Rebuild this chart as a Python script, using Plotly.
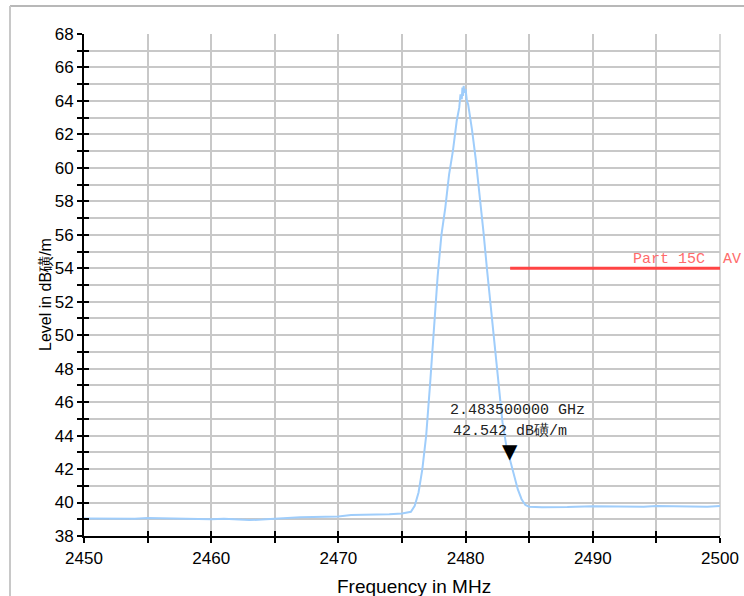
import plotly.graph_objects as go

# ---- data ----
freq_mhz = [2450, 2452, 2454, 2455, 2457, 2457.5, 2460, 2461, 2462, 2463, 2464, 2465,
            2466, 2467, 2468, 2470, 2471, 2473, 2474, 2475, 2475.7, 2476.0, 2476.3,
            2476.6, 2476.9, 2477.2, 2477.5, 2477.8, 2478.1, 2478.4, 2478.7, 2479.0,
            2479.3, 2479.5, 2479.6, 2479.7, 2479.75, 2479.8, 2479.85, 2479.9, 2480.0,
            2480.1, 2480.2, 2480.5, 2480.8, 2481.1, 2481.4, 2481.7, 2482.0, 2482.3,
            2482.6, 2482.9, 2483.2, 2483.5, 2483.8, 2484.1, 2484.4, 2484.7, 2485.0,
            2486, 2488, 2490, 2492, 2494, 2495, 2497, 2499, 2500]
level_dbuvm = [39.05, 39.02, 39.03, 39.08, 39.05, 39.0, 39.0, 39.03, 38.98, 38.95, 38.98, 39.05,
               39.08, 39.12, 39.15, 39.17, 39.25, 39.27, 39.3, 39.35, 39.45, 39.8, 40.6,
               42.0, 44.0, 47.0, 50.5, 53.5, 56.0, 57.6, 59.6, 61.0,
               62.8, 63.6, 64.4, 64.1, 64.8, 64.3, 64.9, 64.5, 64.7,
               64.0, 63.8, 62.3, 60.5, 58.5, 56.2, 53.8, 51.5, 49.0,
               46.7, 44.8, 43.4, 42.542, 41.6, 40.8, 40.2, 39.85, 39.75,
               39.72, 39.73, 39.78, 39.76, 39.75, 39.8, 39.76, 39.75, 39.8]

limit_freq = [2483.5, 2500]
limit_level = [54, 54]
limit_label = "Part 15C  AV"

marker_freq = 2483.5
marker_level = 42.542
marker_text = ["2.483500000 GHz", "42.542 dB磺/m"]

x_title = "Frequency in MHz"
y_title = "Level in dB磺/m"

fig = go.Figure()

fig.add_trace(go.Scatter(x=freq_mhz, y=level_dbuvm, mode="lines",
                         line=dict(color="#9fcdfb", width=2), showlegend=False,
                         hoverinfo="skip"))
fig.add_trace(go.Scatter(x=limit_freq, y=limit_level, mode="lines",
                         line=dict(color="#ff4444", width=3), showlegend=False,
                         hoverinfo="skip"))
# invisible trace to activate the overlaying axes (crossing ticks)
fig.add_trace(go.Scatter(x=[limit_freq[0]], y=[limit_level[0]], mode="markers",
                         marker=dict(opacity=0), yaxis="y2", xaxis="x2",
                         showlegend=False, hoverinfo="skip"))

serif_mono = "Liberation Mono, Courier New, monospace"
narrow = "Liberation Sans Narrow, Arial Narrow, Liberation Sans, Arial"

fig.add_annotation(x=limit_freq[1], y=limit_level[0], text=limit_label,
                   xanchor="right", yanchor="bottom", showarrow=False,
                   xshift=23, yshift=-2,
                   font=dict(family=serif_mono, size=15, color="#ff6b6b"))

fig.add_annotation(x=marker_freq, y=marker_level, text=marker_text[0],
                   xanchor="center", yanchor="middle", showarrow=False,
                   xshift=7, yshift=50,
                   font=dict(family=serif_mono, size=15, color="#222222"))
fig.add_annotation(x=marker_freq, y=marker_level, text=marker_text[1],
                   xanchor="center", yanchor="middle", showarrow=False,
                   xshift=0, yshift=29,
                   font=dict(family=serif_mono, size=15, color="#222222"))
fig.add_annotation(x=marker_freq, y=marker_level, text="▼",
                   xanchor="center", yanchor="middle", showarrow=False,
                   xshift=0, yshift=9,
                   font=dict(family="DejaVu Sans", size=20, color="#000000"))

# axis titles
fig.add_annotation(xref="paper", yref="paper", x=0.5, y=0, text=x_title,
                   xanchor="center", yanchor="middle", showarrow=False,
                   xshift=12, yshift=-50,
                   font=dict(family=narrow, size=19, color="#000000"))
fig.add_annotation(xref="paper", yref="paper", x=0, y=0.5, text=y_title,
                   xanchor="center", yanchor="middle", showarrow=False,
                   xshift=-39, yshift=-10, textangle=-90,
                   font=dict(family=narrow, size=16, color="#000000"))

# outer frame
fig.add_shape(type="line", xref="paper", yref="paper",
              x0=-74 / 636, x1=1.5, y0=1 + 28 / 502, y1=1 + 28 / 502,
              line=dict(color="#b8b8b8", width=2))
fig.add_shape(type="line", xref="paper", yref="paper",
              x0=-74 / 636, x1=-74 / 636, y0=1 + 28 / 502, y1=-0.5,
              line=dict(color="#c8c8c8", width=2))

tick_font = dict(family=narrow, size=17, color="#000000")

fig.update_layout(
    width=744, height=596,
    margin=dict(l=84, r=24, t=34, b=60, autoexpand=False),
    paper_bgcolor="white", plot_bgcolor="white",
    xaxis=dict(range=[2450, 2500], dtick=10, tick0=2450, automargin=False,
               showgrid=True, gridcolor="#c8c8c8", gridwidth=1.5,
               minor=dict(dtick=5, showgrid=True, gridcolor="#c8c8c8", gridwidth=1.5,
                          ticks="outside", ticklen=5, tickcolor="black", tickwidth=1.5),
               ticks="outside", ticklen=5, tickcolor="black", tickwidth=1.5,
               showline=True, linecolor="black", linewidth=2,
               zeroline=False, mirror=False,
               tickfont=tick_font, ticklabelstandoff=1),
    xaxis2=dict(range=[2450, 2500], dtick=5, tick0=2450, overlaying="x", side="bottom",
                anchor="y", showgrid=False, ticks="inside", ticklen=5, tickcolor="black",
                tickwidth=1.5, showticklabels=False, zeroline=False, showline=False,
                automargin=False),
    yaxis=dict(range=[38, 68], dtick=2, tick0=38, automargin=False,
               showgrid=True, gridcolor="#c8c8c8", gridwidth=1.5,
               minor=dict(dtick=1, showgrid=True, gridcolor="#c8c8c8", gridwidth=1.5,
                          ticks="outside", ticklen=5, tickcolor="black", tickwidth=1.5),
               ticks="outside", ticklen=5, tickcolor="black", tickwidth=1.5,
               showline=True, linecolor="black", linewidth=2,
               zeroline=False, tickfont=tick_font, ticklabelstandoff=0),
    yaxis2=dict(range=[38, 68], dtick=1, tick0=38, overlaying="y", side="left",
                anchor="x", showgrid=False, ticks="inside", ticklen=5, tickcolor="black",
                tickwidth=1.5, showticklabels=False, zeroline=False, showline=False,
                automargin=False),
)

# right grid border
fig.add_shape(type="line", xref="paper", yref="paper", x0=1, x1=1, y0=0, y1=1,
              line=dict(color="#c8c8c8", width=1.5), layer="below")

fig.write_html("out.html", config={"displayModeBar": False},
               post_script="document.body.style.margin='0';document.body.style.overflow='hidden';")
